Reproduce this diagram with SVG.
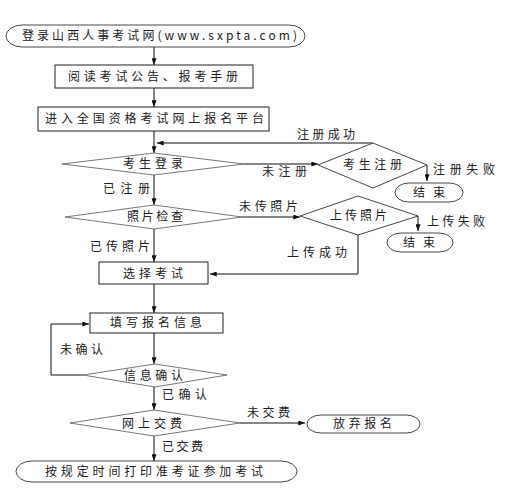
<svg xmlns="http://www.w3.org/2000/svg" width="530" height="494" viewBox="0 0 530 494">
<style>
  .bg { fill: #ffffff; }
  .box { fill: #ffffff; stroke: #222; stroke-width: 1; }
  .term { fill: #ffffff; stroke: #333; stroke-width: 0.9; }
  .dia { fill: #ffffff; stroke: #555; stroke-width: 0.8; }
  .dia2 { fill: #ffffff; stroke: #333; stroke-width: 0.9; }
  .t { font-family: "Noto Sans CJK SC", "Liberation Sans", sans-serif; font-size: 12px; fill: #222; }
  .lbl { font-family: "Noto Sans CJK SC", "Liberation Sans", sans-serif; font-size: 12px; fill: #222; }
  .conn { fill: none; stroke: #111; stroke-width: 1; }
</style>
<defs>
  <marker id="arr" viewBox="0 0 8 6" refX="8" refY="3" markerWidth="7" markerHeight="5" markerUnits="userSpaceOnUse" orient="auto">
    <path d="M0,0 L8,3 L0,6 z" fill="#111"/>
  </marker>
</defs>
<rect class="bg" x="0" y="0" width="530" height="494"/>

<g id="connectors">
  <line class="conn" x1="154" y1="47" x2="154" y2="65" marker-end="url(#arr)"/>
  <line class="conn" x1="154" y1="88" x2="154" y2="107" marker-end="url(#arr)"/>
  <line class="conn" x1="154" y1="131" x2="154" y2="153" marker-end="url(#arr)"/>
  <line class="conn" x1="373" y1="143" x2="157" y2="143" marker-end="url(#arr)"/>
  <line class="conn" x1="244" y1="164" x2="318" y2="164" marker-end="url(#arr)"/>
  <line class="conn" x1="427" y1="165" x2="427" y2="181" marker-end="url(#arr)"/>
  <line class="conn" x1="154" y1="175" x2="154" y2="205" marker-end="url(#arr)"/>
  <line class="conn" x1="242" y1="217" x2="300" y2="217" marker-end="url(#arr)"/>
  <line class="conn" x1="418" y1="216" x2="418" y2="231" marker-end="url(#arr)"/>
  <polyline class="conn" points="358,235 358,274 210,274" marker-end="url(#arr)"/>
  <line class="conn" x1="154" y1="229" x2="154" y2="262" marker-end="url(#arr)"/>
  <line class="conn" x1="154" y1="284" x2="154" y2="313" marker-end="url(#arr)"/>
  <line class="conn" x1="154" y1="333" x2="154" y2="364" marker-end="url(#arr)"/>
  <polyline class="conn" points="83,375 51,375 51,324 89,324" marker-end="url(#arr)"/>
  <line class="conn" x1="154" y1="387" x2="154" y2="410" marker-end="url(#arr)"/>
  <line class="conn" x1="240" y1="423" x2="305" y2="423" marker-end="url(#arr)"/>
  <line class="conn" x1="154" y1="436" x2="154" y2="461" marker-end="url(#arr)"/>
</g>

<g id="labels">
  <text class="lbl" x="297" y="139" textLength="58" lengthAdjust="spacing">注册成功</text>
  <text class="lbl" x="262" y="176" textLength="45" lengthAdjust="spacing">未注册</text>
  <text class="lbl" x="433" y="174" textLength="62" lengthAdjust="spacing">注册失败</text>
  <text class="lbl" x="103" y="193" textLength="47" lengthAdjust="spacing">已注册</text>
  <text class="lbl" x="239" y="211" textLength="59" lengthAdjust="spacing">未传照片</text>
  <text class="lbl" x="427" y="226" textLength="58" lengthAdjust="spacing">上传失败</text>
  <text class="lbl" x="90" y="251" textLength="60" lengthAdjust="spacing">已传照片</text>
  <text class="lbl" x="287" y="257" textLength="60" lengthAdjust="spacing">上传成功</text>
  <text class="lbl" x="60" y="354" textLength="43" lengthAdjust="spacing">未确认</text>
  <text class="lbl" x="162" y="399" textLength="45" lengthAdjust="spacing">已确认</text>
  <text class="lbl" x="247" y="417" textLength="43" lengthAdjust="spacing">未交费</text>
  <text class="lbl" x="162" y="451" textLength="41" lengthAdjust="spacing">已交费</text>
</g>

<g id="n-start">
  <rect class="term" x="6" y="25" width="299" height="22" rx="16" ry="11"/>
  <text class="t" x="22" y="40" textLength="275" lengthAdjust="spacing">登录山西人事考试网(www.sxpta.com)</text>
</g>
<g id="n-read">
  <rect class="box" x="55" y="65" width="198" height="23"/>
  <text class="t" x="68" y="81" textLength="170" lengthAdjust="spacing">阅读考试公告、报考手册</text>
</g>
<g id="n-platform">
  <rect class="box" x="38" y="107" width="231" height="24"/>
  <text class="t" x="45" y="123" textLength="219" lengthAdjust="spacing">进入全国资格考试网上报名平台</text>
</g>
<g id="n-login">
  <polygon class="dia" points="62,164 154,153 244,164 154,175"/>
  <text class="t" x="123" y="168" textLength="60" lengthAdjust="spacing">考生登录</text>
</g>
<g id="n-register">
  <polygon class="dia2" points="318,165 373,143 427,165 373,188"/>
  <text class="t" x="343" y="169" textLength="59" lengthAdjust="spacing">考生注册</text>
</g>
<g id="n-end1">
  <rect class="term" x="395" y="183" width="68" height="19" rx="14" ry="9.5"/>
  <text class="t" x="413" y="197" textLength="32" lengthAdjust="spacing">结束</text>
</g>
<g id="n-photo">
  <polygon class="dia" points="65,217 154,205 242,217 154,229"/>
  <text class="t" x="127" y="221" textLength="56" lengthAdjust="spacing">照片检查</text>
</g>
<g id="n-upload">
  <polygon class="dia2" points="300,216 358,196 418,216 358,235"/>
  <text class="t" x="330" y="220" textLength="57" lengthAdjust="spacing">上传照片</text>
</g>
<g id="n-end2">
  <rect class="term" x="387" y="233" width="66" height="19" rx="14" ry="9.5"/>
  <text class="t" x="403" y="247" textLength="32" lengthAdjust="spacing">结束</text>
</g>
<g id="n-select">
  <rect class="box" x="99" y="262" width="109" height="22"/>
  <text class="t" x="123" y="278" textLength="60" lengthAdjust="spacing">选择考试</text>
</g>
<g id="n-fill">
  <rect class="box" x="90" y="313" width="133" height="20"/>
  <text class="t" x="110" y="327" textLength="92" lengthAdjust="spacing">填写报名信息</text>
</g>
<g id="n-confirm">
  <polygon class="dia" points="83,375 155,364 227,375 155,387"/>
  <text class="t" x="124" y="380" textLength="59" lengthAdjust="spacing">信息确认</text>
</g>
<g id="n-pay">
  <polygon class="dia" points="70,423 154,410 240,423 154,436"/>
  <text class="t" x="122" y="428" textLength="60" lengthAdjust="spacing">网上交费</text>
</g>
<g id="n-abandon">
  <rect class="term" x="307" y="415" width="113" height="18" rx="14" ry="9"/>
  <text class="t" x="333" y="428" textLength="59" lengthAdjust="spacing">放弃报名</text>
</g>
<g id="n-exam">
  <rect class="term" x="16" y="461" width="281" height="21" rx="16" ry="10.5"/>
  <text class="t" x="45" y="476" textLength="218" lengthAdjust="spacing">按规定时间打印准考证参加考试</text>
</g>
</svg>
